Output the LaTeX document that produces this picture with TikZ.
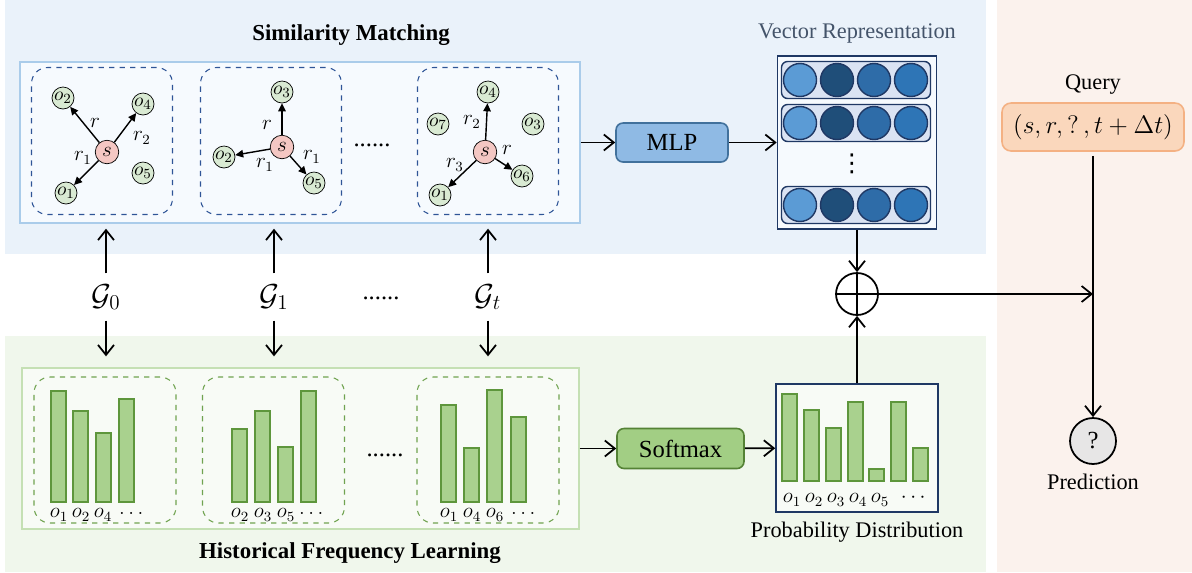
\documentclass[tikz,border=0pt]{standalone}
\usepackage{amsmath,amssymb}
\usepackage{fontspec}
\setmainfont{Liberation Serif}
\newfontfamily\symfont{DejaVu Sans}
\usetikzlibrary{positioning, arrows.meta}
\definecolor{simbg}{RGB}{234,242,250}
\definecolor{simin}{RGB}{246,250,254}
\definecolor{simline}{RGB}{170,204,234}
\definecolor{dashblue}{RGB}{47,85,151}
\definecolor{hisbg}{RGB}{240,247,236}
\definecolor{hisin}{RGB}{248,251,246}
\definecolor{hisline}{RGB}{197,224,180}
\definecolor{dashgreen}{RGB}{112,163,80}
\definecolor{barfill}{RGB}{169,209,142}
\definecolor{barline}{RGB}{94,150,60}
\definecolor{qbg}{RGB}{251,242,237}
\definecolor{qfill}{RGB}{250,215,188}
\definecolor{qline}{RGB}{244,177,131}
\definecolor{entfill}{RGB}{217,234,211}
\definecolor{subfill}{RGB}{244,199,195}
\definecolor{mlpfill}{RGB}{143,186,228}
\definecolor{mlpline}{RGB}{65,113,156}
\definecolor{smfill}{RGB}{162,206,132}
\definecolor{smline}{RGB}{84,130,53}
\definecolor{navy}{RGB}{31,56,100}
\definecolor{rowfill}{RGB}{218,227,243}
\definecolor{vc1}{RGB}{91,155,213}
\definecolor{vc2}{RGB}{31,78,121}
\definecolor{vc3}{RGB}{46,108,168}
\definecolor{vc4}{RGB}{46,117,182}
\definecolor{predfill}{RGB}{231,230,230}
\definecolor{vecgray}{RGB}{68,84,106}
\tikzset{
ent/.style={circle, draw, fill=entfill, minimum size=0.44cm, inner sep=0, font=\fontsize{11}{12}\selectfont},
subj/.style={ent, fill=subfill, minimum size=0.47cm, font=\fontsize{12}{12}\selectfont},
rel/.style={-{Triangle[length=1.6mm,width=1.5mm]}, line width=0.8pt},
arr/.style={-{Straight Barb[length=2mm,width=3.2mm]}, line width=1pt},
rlab/.style={inner sep=0, font=\fontsize{12}{13}\selectfont},
olab/.style={inner sep=0, font=\fontsize{11.5}{12}\selectfont},
lbl/.style={font=\fontsize{12.7}{14}\selectfont},
title/.style={font=\fontsize{13}{15}\selectfont\bfseries},
glab/.style={inner sep=6pt, font=\fontsize{18}{20}\selectfont},
dots/.style={inner sep=0, font=\fontsize{14}{16}\selectfont},
panel/.style={draw, line width=0.8pt, minimum width=#1, minimum height=3.22cm, inner sep=0},
gbox/.style={draw=dashblue, dashed, rounded corners=0.32cm, minimum width=2.82cm, minimum height=2.94cm, line width=0.6pt},
hbox/.style={gbox, draw=dashgreen, minimum width=2.84cm, minimum height=2.92cm},
bar/.style={draw=barline, fill=barfill, line width=0.8pt},
op/.style={draw=#1, rounded corners=0.14cm, line width=0.9pt, font=\fontsize{14}{16}\selectfont},
vrow/.style={draw=navy, fill=rowfill, rounded corners=0.12cm, minimum width=2.98cm, minimum height=0.74cm, line width=0.8pt},
vcell/.style={circle, draw=navy, minimum size=0.66cm, inner sep=0, line width=0.8pt}
}
\begin{document}
\begin{tikzpicture}[x=0.02cm, y=-0.02cm]
\useasboundingbox (0,0) rectangle (1192,572);
\fill[simbg] (5,0) rectangle (986,254);
\fill[hisbg] (5,336) rectangle (986,572);
\fill[qbg] (997,0) rectangle (1192,572);

\node[title] (simtitle) at (351,35) {Similarity Matching};
\node[title] (histitle) at (350,553) {Historical Frequency Learning};

\node[panel=11.2cm, draw=simline, fill=simin] (sim) at (300,142.5) {};
\node[panel=11.14cm, draw=hisline, fill=hisin] (his) at (300.5,448.5) {};
\foreach \g/\x in {a/102, b/271, c/488}
  \node[gbox] (box-\g) at (\x,141) {};
\foreach \g/\x in {a/105, b/273.5, c/488}
  \node[hbox] (hbox-\g) at (\x,450) {};

\foreach \g/\x/\y in {a/107/152, b/282/147, c/485/152}
  \node[subj] (\g-s) at (\x,\y) {$s$};
\foreach \g/\k/\x/\y in {a/1/66/193, a/2/63/98, a/4/143/104, a/5/143/173, b/2/224/157, b/3/282/92, b/5/314/183, c/1/440/195, c/3/533/124, c/4/488/92, c/6/522/176, c/7/438/124}
  \node[ent] (\g-o\k) at (\x,\y) {$o_{\k}$};
\foreach \g/\k in {a/2, a/4, a/1, b/3, b/2, b/5, c/4, c/1, c/6}
  \draw[rel] (\g-s) -- (\g-o\k);
\foreach \x/\y/\lab in {95/123/r, 142/138/r_2, 83/158/r_1, 267/125/r, 265/165/r_1, 312/157/r_1, 472/122/r_2, 455/165/r_3, 507/150/r}
  \node[rlab] at (\x,\y) {$\lab$};
\node[dots] (simdots) at (372,145) {......};

\foreach \x/\t in {51/391, 73/411, 96/433, 119/399, 232/429, 255/411, 278/447, 301/391, 441/405, 464/448, 487/390, 511/417}
  \draw[bar] (\x,502) rectangle (\x+15,\t);
\foreach \x/\k in {59/1, 81/2, 103/4, 240/2, 263/3, 286/5, 449/1, 472/4, 495/6}
  \node[olab] at (\x,515) {$o_{\k}$};
\foreach \x in {133, 313, 525}
  \node[olab] at (\x,513) {$\dots$};
\node[dots] (hisdots) at (385,455) {......};

\foreach \i/\x in {0/106, 1/274, t/488} {
  \node[glab] (g-\i) at (\x,297) {$\mathcal{G}_{\i}$};
  \draw[arr, shorten >=0.1cm] (g-\i.north) -- (g-\i.north |- sim.south);
  \draw[arr, shorten >=0.22cm] (g-\i.south) -- (g-\i.south |- his.north);
}
\node[dots] (gdots) at (381,298) {......};

\node[op=mlpline, fill=mlpfill, minimum width=2.24cm, minimum height=0.78cm] (mlp) at (672,142.5) {MLP};
\node[op=smline, fill=smfill, minimum width=2.54cm, minimum height=0.8cm] (softmax) at (680.5,448.5) {Softmax};

\node[draw=navy, fill=simin, line width=0.9pt, minimum width=3.18cm, minimum height=3.46cm] (vec) at (857,142.5) {};
\node[lbl, text=vecgray, above=0.12cm of vec] (vectitle) {Vector Representation};
\foreach \y [count=\j] in {80, 123, 205} {
  \node[vrow] (row-\j) at (856,\y) {};
  \foreach \c [count=\k] in {vc1, vc2, vc3, vc4}
    \node[vcell, fill=\c] (cell-\j-\k) at (800+37*\k-37,\y) {};
}
\node[inner sep=0, font=\symfont\fontsize{14}{16}\selectfont] (vdots) at (852,164) {⋮};

\node[draw=navy, fill=hisin, line width=0.9pt, minimum width=3.24cm, minimum height=2.56cm] (prob) at (857,448) {};
\node[lbl, below=0.06cm of prob] (probtitle) {Probability Distribution};
\foreach \x/\t in {782/394, 804/410, 826/428, 848/402, 869/469, 891/402, 913/448}
  \draw[bar] (\x,481) rectangle (\x+15,\t);
\foreach \k [count=\i] in {1,...,5}
  \node[olab] at (770+22*\i,500) {$o_{\k}$};
\node[olab] at (915,498) {$\cdots$};

\node[circle, draw, line width=1pt, minimum size=0.84cm, inner sep=0] (oplus) at (857,294) {};
\draw[line width=1pt] (oplus.north) -- (oplus.south) (oplus.west) -- (oplus.east);

\node[draw=qline, fill=qfill, rounded corners=0.18cm, line width=0.9pt, minimum width=3.64cm, minimum height=0.96cm, font=\fontsize{14.5}{16}\selectfont] (query) at (1093,127) {$(s, r, ?\,, t+\Delta t)$};
\node[lbl, above=0.04cm of query] (querytitle) {Query};
\node[circle, draw, fill=predfill, line width=1pt, minimum size=0.92cm, inner sep=0, font=\fontsize{14}{16}\selectfont] (pred) at (1093,441) {?};
\node[lbl, below=0.06cm of pred] (predtitle) {Prediction};
\coordinate (join) at (query.south |- oplus);

\draw[arr] (sim) -- (mlp);
\draw[arr] (mlp) -- (vec);
\draw[arr] (his) -- (softmax);
\draw[arr] (softmax) -- (prob);
\draw[arr] (vec) -- (oplus);
\draw[arr] (prob) -- (oplus);
\draw[arr] (oplus) -- (join);
\draw[arr, shorten <=0.08cm] (query) -- (pred);
\end{tikzpicture}
\end{document}
